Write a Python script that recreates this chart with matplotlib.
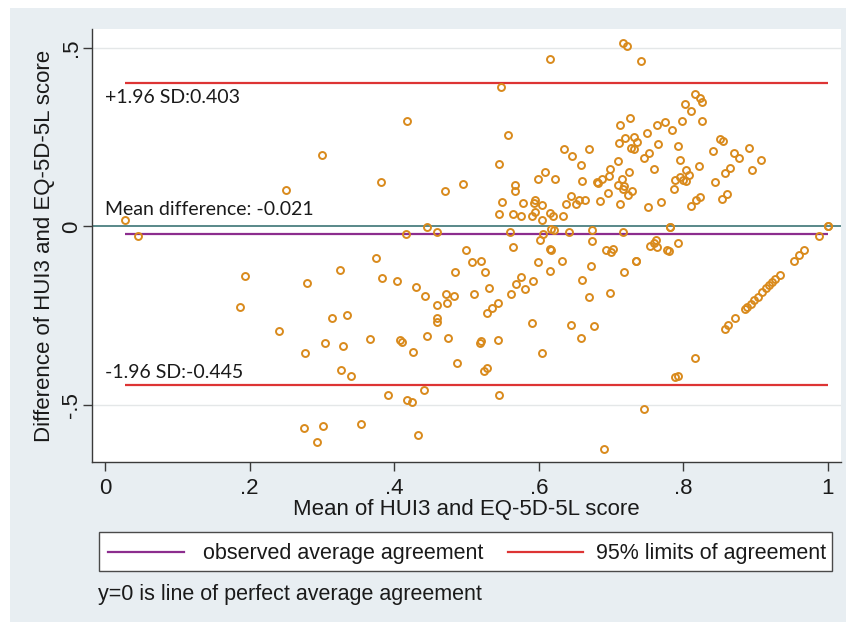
import matplotlib
matplotlib.use("Agg")
import matplotlib.pyplot as plt
from matplotlib.lines import Line2D
from matplotlib.patches import Rectangle

# ---------------- data ----------------
mean_score = [
    0.028, 0.045, 0.251, 0.300, 0.193, 0.187, 0.241, 0.279, 0.325, 0.314,
    0.335, 0.304, 0.277, 0.329, 0.366, 0.326, 0.340, 0.275, 0.302, 0.293,
    0.354,
    0.548, 0.418, 0.558, 0.545, 0.382, 0.495, 0.470, 0.567, 0.567, 0.549,
    0.578, 0.545, 0.565, 0.576, 0.446, 0.416, 0.459, 0.560, 0.499, 0.565,
    0.375, 0.508, 0.520, 0.484, 0.525, 0.383, 0.404, 0.576, 0.569, 0.581,
    0.430, 0.531, 0.443, 0.472, 0.483, 0.511, 0.562, 0.459, 0.473, 0.543,
    0.535, 0.528, 0.459, 0.459, 0.408, 0.411, 0.446, 0.475, 0.518, 0.520,
    0.543, 0.426, 0.487, 0.524, 0.529, 0.441, 0.391, 0.418, 0.424, 0.545,
    0.433,
    0.615, 0.716, 0.722, 0.742, 0.712, 0.726, 0.763, 0.774, 0.784, 0.749,
    0.719, 0.711, 0.731, 0.736, 0.728, 0.731, 0.765, 0.793, 0.635, 0.670,
    0.646, 0.753, 0.745, 0.710, 0.795, 0.659, 0.698, 0.759, 0.609, 0.599,
    0.622, 0.697, 0.725, 0.687, 0.715, 0.660, 0.680, 0.682, 0.789, 0.709,
    0.718, 0.716, 0.787, 0.729, 0.696, 0.723, 0.644, 0.595, 0.656, 0.664,
    0.685, 0.593, 0.604, 0.638, 0.651, 0.713, 0.769, 0.751, 0.595, 0.590,
    0.615, 0.620, 0.633, 0.605, 0.781, 0.781, 0.617, 0.621, 0.673, 0.717,
    0.642, 0.606, 0.602, 0.674, 0.762, 0.759, 0.754, 0.792, 0.616, 0.693,
    0.703, 0.778,
    0.617, 0.700, 0.764, 0.780, 0.599, 0.632, 0.616, 0.672, 0.718, 0.734,
    0.734, 0.592, 0.660, 0.669, 0.699, 0.591, 0.644, 0.677, 0.659, 0.604,
    0.789, 0.792, 0.746, 0.690,
    0.816, 0.823, 0.826, 0.802, 0.811, 0.798, 0.826, 0.850, 0.855, 0.841,
    0.870, 0.877, 0.891, 0.908, 0.895, 0.821, 0.864, 0.857, 0.803, 0.808,
    0.795, 0.799, 0.803, 0.844, 0.854, 0.861, 0.810, 0.817, 0.823, 1.000,
    1.000, 0.988, 0.967,
    0.960, 0.953, 0.933, 0.927, 0.922, 0.919, 0.914, 0.909, 0.903, 0.898,
    0.893, 0.888, 0.885, 0.872, 0.862, 0.857, 0.816,
]
diff_score = [
    0.017, -0.027, 0.101, 0.199, -0.139, -0.225, -0.292, -0.158, -0.121, -0.256,
    -0.247, -0.326, -0.354, -0.336, -0.316, -0.402, -0.418, -0.564, -0.558, -0.605,
    -0.553,
    0.391, 0.294, 0.257, 0.174, 0.125, 0.119, 0.100, 0.117, 0.098, 0.067,
    0.065, 0.036, 0.035, 0.029, -0.002, -0.022, -0.015, -0.017, -0.066, -0.059,
    -0.089, -0.099, -0.098, -0.129, -0.127, -0.144, -0.152, -0.141, -0.160, -0.175,
    -0.169, -0.173, -0.196, -0.189, -0.195, -0.190, -0.189, -0.219, -0.214, -0.214,
    -0.228, -0.242, -0.257, -0.267, -0.319, -0.325, -0.306, -0.314, -0.327, -0.321,
    -0.318, -0.352, -0.382, -0.406, -0.396, -0.459, -0.472, -0.486, -0.493, -0.472,
    -0.583,
    0.468, 0.513, 0.505, 0.463, 0.285, 0.305, 0.285, 0.293, 0.270, 0.261,
    0.247, 0.233, 0.250, 0.237, 0.221, 0.218, 0.230, 0.224, 0.216, 0.217,
    0.197, 0.206, 0.191, 0.183, 0.187, 0.171, 0.160, 0.160, 0.152, 0.134,
    0.134, 0.141, 0.153, 0.133, 0.134, 0.127, 0.125, 0.122, 0.130, 0.117,
    0.114, 0.106, 0.104, 0.099, 0.094, 0.089, 0.085, 0.075, 0.075, 0.073,
    0.070, 0.066, 0.059, 0.064, 0.063, 0.064, 0.067, 0.054, 0.040, 0.028,
    0.037, 0.028, 0.029, 0.019, -0.002, -0.002, -0.008, -0.011, -0.009, -0.015,
    -0.016, -0.022, -0.037, -0.041, -0.037, -0.047, -0.056, -0.047, -0.064, -0.066,
    -0.064, -0.066,
    -0.067, -0.072, -0.058, -0.070, -0.101, -0.097, -0.125, -0.110, -0.128, -0.096,
    -0.096, -0.153, -0.150, -0.198, -0.186, -0.272, -0.276, -0.278, -0.313, -0.354,
    -0.423, -0.418, -0.512, -0.624,
    0.370, 0.359, 0.349, 0.342, 0.323, 0.296, 0.295, 0.246, 0.238, 0.210,
    0.207, 0.192, 0.219, 0.185, 0.157, 0.169, 0.165, 0.150, 0.157, 0.143,
    0.137, 0.129, 0.126, 0.124, 0.076, 0.090, 0.058, 0.073, 0.082, 0.000,
    0.000, -0.028, -0.066,
    -0.081, -0.096, -0.136, -0.147, -0.156, -0.163, -0.173, -0.183, -0.197, -0.205,
    -0.217, -0.227, -0.231, -0.257, -0.276, -0.288, -0.369,
]
mean_difference = -0.021
loa_upper = 0.403
loa_lower = -0.445
x_ticks = [0, 0.2, 0.4, 0.6, 0.8, 1.0]
x_tick_labels = ["0", ".2", ".4", ".6", ".8", "1"]
y_ticks = [-0.5, 0, 0.5]
y_tick_labels = ["-.5", "0", ".5"]
legend_labels = ["observed average agreement", "95% limits of agreement"]
note_text = "y=0 is line of perfect average agreement"

# ---------------- style ----------------
W, H = 849, 625
BG = "#e8eef2"
ORANGE = "#d98a1c"
PURPLE = "#8c2d8e"
RED = "#dd3434"
TEAL = "#4b7f80"
TXT = "#1a1a1a"
plt.rcParams["font.family"] = ["Liberation Sans", "DejaVu Sans"]

fig = plt.figure(figsize=(W / 100, H / 100), dpi=100)
fig.patch.set_facecolor("white")

def fx(px):
    return px / W

def fy(py):
    return 1 - py / H

# graph-region background
fig.add_artist(Rectangle((fx(10), fy(622)), fx(846) - fx(10), fy(8) - fy(622),
                         transform=fig.transFigure, facecolor=BG,
                         edgecolor="none", zorder=0))

ax = fig.add_axes([fx(92), fy(462), fx(841) - fx(92), fy(29) - fy(462)])
ax.set_facecolor("white")
ax.set_xlim(-0.018, 1.018)
ax.set_ylim(-0.660, 0.553)

for s in ["top", "right"]:
    ax.spines[s].set_visible(False)
for s in ["left", "bottom"]:
    ax.spines[s].set_color("#3a3a3a")
    ax.spines[s].set_linewidth(1.0)

# grid lines
for yv in y_ticks:
    if yv != 0:
        ax.axhline(yv, color="#e4e7e8", lw=1.0, zorder=1)
# perfect agreement line
ax.axhline(0, color=TEAL, lw=1.3, zorder=2)

xmin, xmax = min(mean_score), max(mean_score)
ax.hlines(mean_difference, xmin, xmax, color=PURPLE, lw=1.6, zorder=3)
ax.hlines([loa_upper, loa_lower], xmin, xmax, color=RED, lw=1.6, zorder=3)

ax.plot(mean_score, diff_score, linestyle="none", marker="o", ms=5.0,
        mfc="none", mec=ORANGE, mew=1.4, zorder=4)

lab_font = dict(family=["Lato", "DejaVu Sans"], fontsize=14, color=TXT)
ax.text(0.0, loa_upper - 0.056, f"+1.96 SD:{loa_upper:.3f}", ha="left",
        va="baseline", **lab_font)
ax.text(0.0, 0.031, f"Mean difference: {mean_difference:.3f}", ha="left",
        va="baseline", **lab_font)
ax.text(0.0, loa_lower + 0.019, f"-1.96 SD:{loa_lower:.3f}", ha="left",
        va="baseline", **lab_font)

ax.set_xticks(x_ticks)
ax.set_xticklabels(x_tick_labels)
ax.set_yticks(y_ticks)
ax.set_yticklabels(y_tick_labels, rotation=90, va="center")
ax.tick_params(axis="both", direction="out", length=6.5, width=1.0,
               color="#3a3a3a", labelsize=16, labelcolor=TXT)
ax.tick_params(axis="x", pad=5)
ax.tick_params(axis="y", pad=0.5)

ax.set_xlabel("Mean of HUI3 and EQ-5D-5L score", fontsize=16, color=TXT)
ax.xaxis.set_label_coords(0.5, (462 - 499) / 433)
ax.set_ylabel("Difference of HUI3 and EQ-5D-5L score", fontsize=16, color=TXT)
ax.yaxis.set_label_coords((55 - 92) / 749, 0.5)

# legend box
fig.add_artist(Rectangle((fx(99), fy(570.5)), fx(832) - fx(99),
                         fy(532) - fy(570.5), transform=fig.transFigure,
                         facecolor="white", edgecolor="#4a4a4a", lw=1.0,
                         zorder=5))
ly = fy(551.5)
fig.add_artist(Line2D([fx(108), fx(184)], [ly, ly], color=PURPLE, lw=1.6,
                      transform=fig.transFigure, zorder=6))
fig.text(fx(203), ly, legend_labels[0], ha="left", va="center_baseline",
         fontsize=15.5, color=TXT, zorder=6)
fig.add_artist(Line2D([fx(508), fx(583)], [ly, ly], color=RED, lw=1.6,
                      transform=fig.transFigure, zorder=6))
fig.text(fx(596), ly, legend_labels[1], ha="left", va="center_baseline",
         fontsize=15.5, color=TXT, zorder=6)

fig.text(fx(98), fy(592), note_text, ha="left", va="center_baseline",
         fontsize=15.5, color=TXT)

fig.savefig("out.png", dpi=100, facecolor=fig.get_facecolor())
